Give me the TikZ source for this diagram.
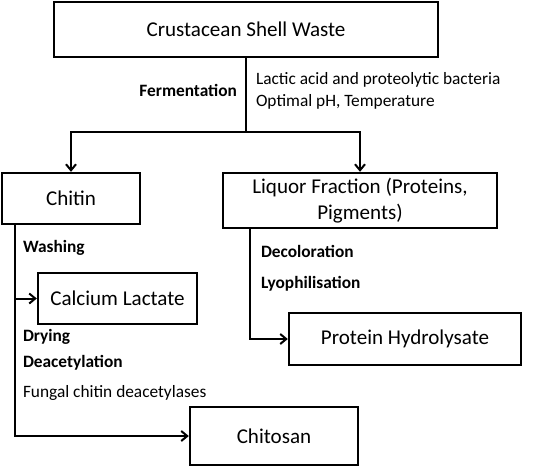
\documentclass[tikz,border=0pt]{standalone}
\usepackage{fontspec}
\setmainfont{Carlito}
\usetikzlibrary{positioning,arrows.meta}
\tikzstyle{stage}=[rectangle,draw,line width=1.8pt,inner sep=0pt,font=\fontsize{15.8}{19}\selectfont]
\tikzstyle{steplabel}=[inner sep=0pt,font=\fontsize{13}{16.5}\selectfont\bfseries]
\tikzstyle{notelabel}=[inner sep=0pt,font=\fontsize{13}{16.5}\selectfont,align=left]

\begin{document}
\begin{tikzpicture}[x=0.75pt,y=-0.75pt,line width=1.5pt,>={Straight Barb[length=4.5pt,width=7.5pt]}]
		\useasboundingbox (0,0) rectangle (536,468);
		\node[stage,minimum width=384*0.75pt,minimum height=55*0.75pt] (waste) at (246,29.5) {Crustacean Shell Waste};
		\node[stage,minimum width=138*0.75pt,minimum height=51*0.75pt] (chitin) at (71,198.5) {Chitin};
		\node[stage,minimum width=274*0.75pt,minimum height=55*0.75pt,align=center] (liquor) at (360,200.5) {Liquor Fraction (Proteins,\\Pigments)};
		\node[stage,minimum width=159*0.75pt,minimum height=51*0.75pt] (calcium) at (117.5,298.5) {Calcium Lactate};
		\node[stage,minimum width=232*0.75pt,minimum height=52*0.75pt] (protein) at (405,339) {Protein Hydrolysate};
		\node[stage,minimum width=168*0.75pt,minimum height=58*0.75pt] (chitosan) at (274,436) {Chitosan};
		
		\coordinate (split) at (246,132);
		\coordinate (chitinout) at (15,224);
		\coordinate (liquorout) at (250,228);
		
		\draw (waste) -- (split);
		\draw[->] (split) -| (chitin);
		\draw[->] (split) -| (liquor);
		\draw[->] (chitinout) |- (calcium);
		\draw[->] (chitinout) |- (chitosan);
		\draw[->] (liquorout) |- (protein);
		
		\node[steplabel,anchor=east] (ferm) at (238,90) {Fermentation};
		\node[notelabel,anchor=west] (bact) at (255,91) {Lactic acid and proteolytic bacteria\\Optimal pH, Temperature};
		\node[steplabel,anchor=west] (wash) at (22,248) {Washing};
		\node[steplabel,anchor=west] (dry) at (22,337) {Drying};
		\node[steplabel,anchor=west] (deac) at (22,363) {Deacetylation};
		\node[notelabel,anchor=west] (fungal) at (22,393) {Fungal chitin deacetylases};
		\node[steplabel,anchor=west] (decol) at (260,251) {Decoloration};
		\node[steplabel,anchor=west] (lyo) at (260,284) {Lyophilisation};
\end{tikzpicture}
\end{document}
